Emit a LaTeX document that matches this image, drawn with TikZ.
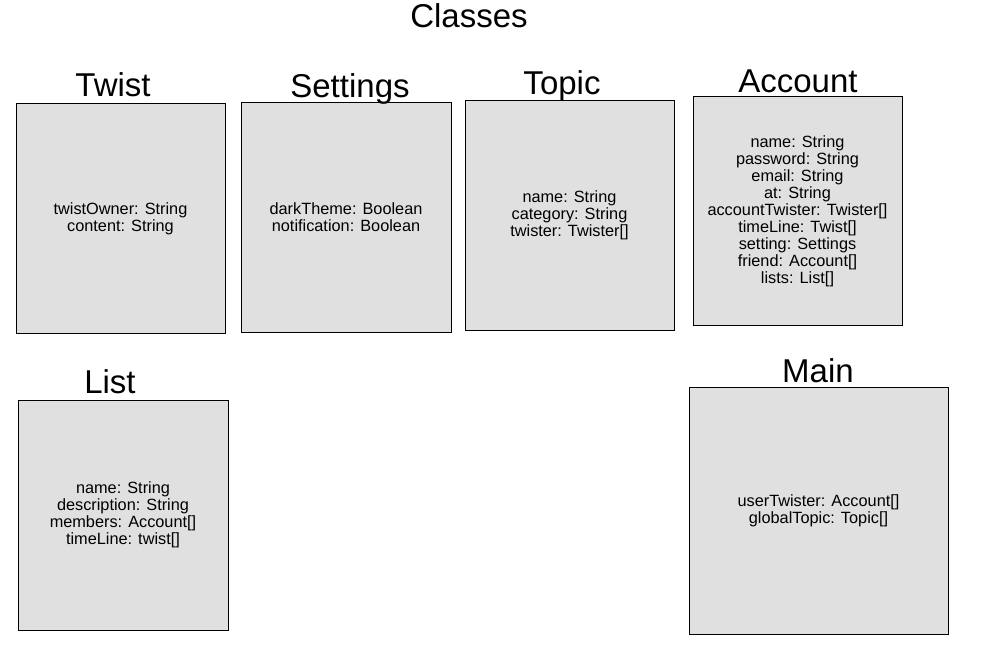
\documentclass[tikz,border=0pt]{standalone}
\usepackage{fontspec}
\setmainfont{Liberation Sans}
\definecolor{boxgray}{HTML}{E0E0E0}
\tikzset{box/.style={draw=black,fill=boxgray,line width=1pt,align=center,inner sep=0pt,font=\fontsize{16.3}{17}\selectfont},
title/.style={anchor=base,inner sep=0pt,font=\fontsize{33}{38}\selectfont}}

\begin{document}
\begin{tikzpicture}[x=1pt,y=-1pt]
\useasboundingbox (0,0) rectangle (1005,666);
\node[title] (classes) at (469,28){Classes};
% top row
\node[box,minimum width=209pt,minimum height=229pt] (twist) at (120.5,218.5){twistOwner: String\\content: String};
\node[title] (twistT) at (113,97){Twist};
\node[box,minimum width=210pt,minimum height=229pt] (settings) at (346,217.5){darkTheme: Boolean\\ notification: Boolean};
\node[title] (settingsT) at (350,98){Settings};
\node[box,minimum width=209pt,minimum height=229pt] (topic) at (569.5,215.5){name: String\\category: String\\twister: Twister[]};
\node[title] (topicT) at (562,95){Topic};
\node[box,minimum width=209pt,minimum height=228pt] (account) at (797.5,211){name: String\\password: String\\email: String\\at: String\\accountTwister: Twister[]\\timeLine: Twist[]\\setting: Settings\\friend: Account[]\\lists: List[]};
\node[title] (accountT) at (798,93){Account};
% bottom row
\node[box,minimum width=210pt,minimum height=230pt] (list) at (123,515){name: String\\description: String\\members: Account[]\\timeLine: twist[]};
\node[title] (listT) at (110,393){List};
\node[box,minimum width=259pt,minimum height=247pt] (main) at (818.5,510.5){userTwister: Account[]\\ globalTopic: Topic[]};
\node[title] (mainT) at (818,382){Main};
\end{tikzpicture}
\end{document}
